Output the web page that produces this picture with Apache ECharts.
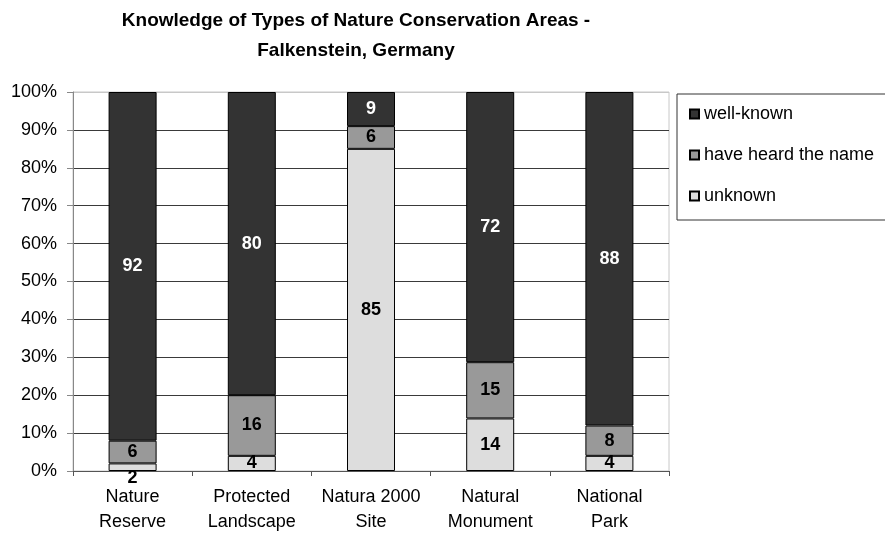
<!DOCTYPE html>
<html>
<head>
<meta charset="utf-8">
<script src="https://cdn.jsdelivr.net/npm/echarts@6/dist/echarts.min.js"></script>
<style>html,body{margin:0;padding:0;background:#fff}#c{width:885px;height:535px}</style>
</head>
<body>
<div id="c"></div>
<script>
var categories = ['Nature\nReserve', 'Protected\nLandscape', 'Natura 2000\nSite', 'Natural\nMonument', 'National\nPark'];
var unknownVals = [2, 4, 85, 14, 4];
var heardVals = [6, 16, 6, 15, 8];
var wellKnownVals = [92, 80, 9, 72, 88];
var yTicks = [0, 10, 20, 30, 40, 50, 60, 70, 80, 90, 100];

var FONT = 'Liberation Sans, Arial, Helvetica, sans-serif';
var totals = categories.map(function (c, i) { return unknownVals[i] + heardVals[i] + wellKnownVals[i]; });

function build(vals) {
  return vals.map(function (v, i) {
    var pct = v / totals[i] * 100;
    var item = { value: pct, raw: v };
    if (pct < 3) item.label = { offset: [0, 11] };
    return item;
  });
}

function mkSeries(name, vals, color, labelColor) {
  return {
    name: name, type: 'bar', stack: 'total', barWidth: 48,
    data: build(vals),
    itemStyle: { color: color, borderColor: '#000', borderWidth: 1 },
    label: {
      show: true, position: 'inside', color: labelColor,
      fontFamily: FONT, fontSize: 18, fontWeight: 'bold',
      formatter: function (p) { return p.data.raw; }
    },
    emphasis: { disabled: true }
  };
}

var gridColors = yTicks.map(function (t) { return t === 100 ? '#c8c8c8' : '#3a3a3a'; });

var chart = echarts.init(document.getElementById('c'), null, { renderer: 'canvas' });
chart.setOption({
  backgroundColor: '#fff',
  animation: false,
  graphic: [{
    type: 'text', x: 356, y: 6, silent: true,
    style: {
      text: 'Knowledge of Types of Nature Conservation Areas -\nFalkenstein, Germany',
      align: 'center', textAlign: 'center', verticalAlign: 'top',
      fontFamily: FONT, fontSize: 19, fontWeight: 'bold', lineHeight: 30, fill: '#000'
    }
  }],
  legend: {
    orient: 'vertical', left: 677, top: 94,
    data: ['well-known', 'have heard the name', 'unknown'],
    icon: 'rect', itemWidth: 9, itemHeight: 9, itemGap: 21,
    padding: [10, 20, 14, 12],
    borderColor: '#333', borderWidth: 1,
    textStyle: { fontFamily: FONT, fontSize: 18, color: '#000', lineHeight: 20 },
    selectedMode: false
  },
  grid: { left: 73, right: 216, top: 92, bottom: 64, show: true, borderColor: '#c8c8c8', borderWidth: 1, containLabel: false },
  xAxis: {
    type: 'category', data: categories,
    axisLine: { lineStyle: { color: '#555', width: 1 } },
    axisTick: { show: true, length: 5, lineStyle: { color: '#555' } },
    axisLabel: { interval: 0, fontFamily: FONT, fontSize: 18, color: '#000', lineHeight: 25, margin: 14 }
  },
  yAxis: {
    type: 'value', min: 0, max: 100, interval: 10,
    axisLine: { show: true, lineStyle: { color: '#888', width: 1 } },
    axisTick: { show: true, length: 6, lineStyle: { color: '#888' } },
    splitLine: { show: true, lineStyle: { color: gridColors, width: 1 } },
    axisLabel: { fontFamily: FONT, fontSize: 18, color: '#000', margin: 16, formatter: '{value}%' }
  },
  series: [
    mkSeries('unknown', unknownVals, '#dddddd', '#000'),
    mkSeries('have heard the name', heardVals, '#999999', '#000'),
    mkSeries('well-known', wellKnownVals, '#333333', '#fff')
  ]
});
</script>
</body>
</html>
